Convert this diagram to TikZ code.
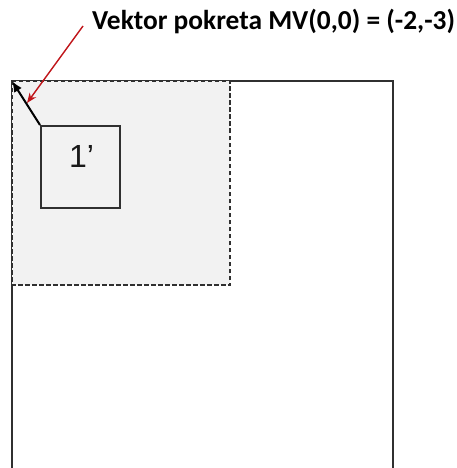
\documentclass[tikz,border=0pt]{standalone}
\usepackage{fontspec}
\setmainfont{Liberation Sans}
\newfontfamily\calib{Carlito}
\usetikzlibrary{arrows.meta}
\definecolor{lineg}{HTML}{303030}
\definecolor{fillg}{HTML}{F2F2F2}
\definecolor{redarr}{HTML}{C0161B}
\tikzset{
  frame/.style={draw=lineg, line width=1.8pt},
  block/.style={draw=lineg, line width=1.8pt, fill=fillg},
  dashbox/.style={draw=lineg, line width=1.8pt, dash pattern=on 4.5pt off 2.5pt, fill=fillg},
}
\begin{document}
\begin{tikzpicture}[x=1pt,y=-1pt]
\useasboundingbox (0,0) rectangle (457,468);
% big frame (open at bottom)
\draw[frame] (12,470) -- (12,81) -- (393,81) -- (393,470);
% dashed shaded block
\draw[dashbox] (12,81) rectangle (230,285);
% small square
\node[block, minimum width=79pt, minimum height=82pt, inner sep=0pt, anchor=north west] (sq) at (40,125) {};
\node[font=\fontsize{32}{32}\selectfont, anchor=base, text=black!90] (lab) at (81.5,167) {1’};
% motion vector
\coordinate (tip) at (12,81);
\draw[black, line width=2pt, -{Latex[length=11pt,width=9pt]}] (sq.north west) -- (tip);
% caption
\node[font=\calib\bfseries\fontsize{27.4}{27.4}\selectfont, anchor=base west, inner sep=0pt] (cap) at (92,30) {Vektor pokreta MV(0,0) = (-2,-3)};
\coordinate (rs) at (83,26);
\coordinate (re) at (27,103);
\draw[redarr, line width=1.4pt, -{Stealth[length=10pt,width=8pt]}] (rs) -- (re);
\end{tikzpicture}
\end{document}
